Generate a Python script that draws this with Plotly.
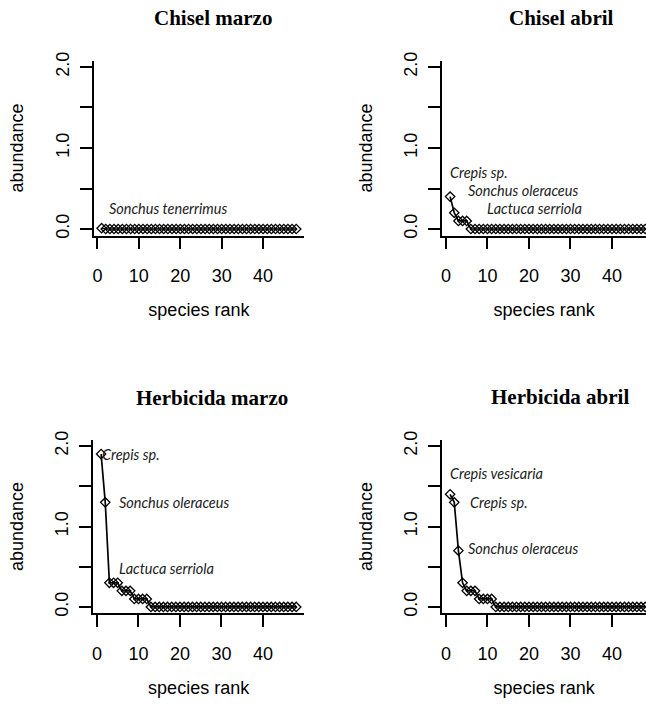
import plotly.graph_objects as go

# ---------------- data ----------------
ranks = [1, 2, 3, 4, 5, 6, 7, 8, 9, 10, 11, 12, 13, 14, 15, 16, 17, 18, 19, 20,
         21, 22, 23, 24, 25, 26, 27, 28, 29, 30, 31, 32, 33, 34, 35, 36, 37, 38, 39, 40,
         41, 42, 43, 44, 45, 46, 47, 48]

chisel_marzo = [0.01, 0, 0, 0, 0, 0, 0, 0, 0, 0, 0, 0, 0, 0, 0, 0, 0, 0, 0, 0,
                0, 0, 0, 0, 0, 0, 0, 0, 0, 0, 0, 0, 0, 0, 0, 0, 0, 0, 0, 0,
                0, 0, 0, 0, 0, 0, 0, 0]
chisel_abril = [0.4, 0.2, 0.1, 0.1, 0.1, 0, 0, 0, 0, 0, 0, 0, 0, 0, 0, 0, 0, 0, 0, 0,
                0, 0, 0, 0, 0, 0, 0, 0, 0, 0, 0, 0, 0, 0, 0, 0, 0, 0, 0, 0,
                0, 0, 0, 0, 0, 0, 0, 0]
herbicida_marzo = [1.9, 1.3, 0.3, 0.3, 0.3, 0.2, 0.2, 0.2, 0.1, 0.1, 0.1, 0.1, 0, 0, 0, 0, 0, 0, 0, 0,
                   0, 0, 0, 0, 0, 0, 0, 0, 0, 0, 0, 0, 0, 0, 0, 0, 0, 0, 0, 0,
                   0, 0, 0, 0, 0, 0, 0, 0]
herbicida_abril = [1.4, 1.3, 0.7, 0.3, 0.2, 0.2, 0.2, 0.1, 0.1, 0.1, 0.1, 0, 0, 0, 0, 0, 0, 0, 0, 0,
                   0, 0, 0, 0, 0, 0, 0, 0, 0, 0, 0, 0, 0, 0, 0, 0, 0, 0, 0, 0,
                   0, 0, 0, 0, 0, 0, 0, 0]

panel_titles = ["Chisel marzo", "Chisel abril", "Herbicida marzo", "Herbicida abril"]

# species labels per panel: text, x (rank units), y (abundance units)
labels_chisel_marzo = ["Sonchus tenerrimus"]
labx_chisel_marzo = [2.2]
laby_chisel_marzo = [0.25]

labels_chisel_abril = ["Crepis sp.", "Sonchus oleraceus", "Lactuca serriola"]
labx_chisel_abril = [0.5, 4.8, 9.4]
laby_chisel_abril = [0.70, 0.47, 0.25]

labels_herbicida_marzo = ["Crepis sp.", "Sonchus oleraceus", "Lactuca serriola"]
labx_herbicida_marzo = [0.8, 4.8, 4.8]
laby_herbicida_marzo = [1.89, 1.30, 0.48]

labels_herbicida_abril = ["Crepis vesicaria", "Crepis sp.", "Sonchus oleraceus"]
labx_herbicida_abril = [0.5, 5.3, 4.8]
laby_herbicida_abril = [1.66, 1.30, 0.73]

x_ticks = [0, 10, 20, 30, 40]
y_ticks = [0, 0.5, 1, 1.5, 2]
y_ticktext = ["0.0", "", "1.0", "", "2.0"]

# ---------------- layout geometry ----------------
W, H = 646, 705
SANS = "Liberation Sans, Arial, sans-serif"
SERIF = "Liberation Serif, Times New Roman, serif"
ITAL = "Lato, Noto Sans, sans-serif"

panels = [
    # series, labels, xs, ys, x-domain px, y-domain px (top, bottom), x range max
    (chisel_marzo, labels_chisel_marzo, labx_chisel_marzo, laby_chisel_marzo, (93.8, 304.0), (60.5, 235.5), 49.88),
    (chisel_abril, labels_chisel_abril, labx_chisel_abril, laby_chisel_abril, (442.3, 646.0), (60.5, 235.5), 48.19),
    (herbicida_marzo, labels_herbicida_marzo, labx_herbicida_marzo, laby_herbicida_marzo, (93.3, 304.0), (439.6, 613.4), 49.88),
    (herbicida_abril, labels_herbicida_abril, labx_herbicida_abril, laby_herbicida_abril, (442.3, 646.0), (439.6, 613.4), 48.19),
]
title_pos = [(213, 18), (561, 18), (212, 398), (560, 397)]

fig = go.Figure()
annotations = []
layout = {}

for i, (vals, labs, lx, ly, xd, yd, xmax) in enumerate(panels):
    n = "" if i == 0 else str(i + 1)
    xa, ya = "x" + n, "y" + n
    fig.add_trace(go.Scatter(
        x=ranks, y=vals, xaxis=xa, yaxis=ya, mode="lines+markers",
        line=dict(color="black", width=1.7),
        marker=dict(symbol="diamond-open", size=7.2, color="black", line=dict(width=1.3, color="black")),
        showlegend=False, hoverinfo="x+y",
    ))
    layout["xaxis" + n] = dict(
        domain=[xd[0] / W, xd[1] / W], range=[-0.88, xmax], anchor=ya, automargin=False,
        tickvals=x_ticks, ticks="outside", ticklen=12, tickwidth=1.6, tickcolor="black",
        showline=True, linecolor="black", linewidth=1.8, showgrid=False, zeroline=False,
        tickfont=dict(family=SANS, size=18, color="black"), ticklabelstandoff=11,
        title=dict(text="species rank", font=dict(family=SANS, size=18, color="black"), standoff=18),
    )
    layout["yaxis" + n] = dict(
        domain=[1 - yd[1] / H, 1 - yd[0] / H], range=[-0.08, 2.08], anchor=xa, automargin=False,
        tickvals=y_ticks, ticktext=y_ticktext, tickangle=-90,
        ticks="outside", ticklen=12, tickwidth=1.6, tickcolor="black",
        showline=True, linecolor="black", linewidth=1.8, showgrid=False, zeroline=False,
        tickfont=dict(family=SANS, size=18, color="black"), ticklabelstandoff=4,
        title=dict(text="abundance", font=dict(family=SANS, size=18, color="black"), standoff=24),
    )
    for t, x, y in zip(labs, lx, ly):
        annotations.append(dict(
            text="<i>" + t + "</i>", x=x, y=y, xref=xa, yref=ya, xanchor="left", yanchor="middle",
            showarrow=False, font=dict(family=ITAL, size=14.5, color="#222"),
        ))
    tx, ty = title_pos[i]
    annotations.append(dict(
        text="<b>" + panel_titles[i] + "</b>", x=tx / W, y=1 - ty / H, xref="paper", yref="paper",
        xanchor="center", yanchor="middle", showarrow=False,
        font=dict(family=SERIF, size=21, color="black"),
    ))

fig.update_layout(
    width=W, height=H, margin=dict(l=0, r=0, t=0, b=0),
    paper_bgcolor="white", plot_bgcolor="white",
    annotations=annotations, **layout,
)

fig.write_html(
    "out.html",
    config={"displayModeBar": False},
    post_script="document.body.style.margin='0';document.body.style.padding='0';",
)
